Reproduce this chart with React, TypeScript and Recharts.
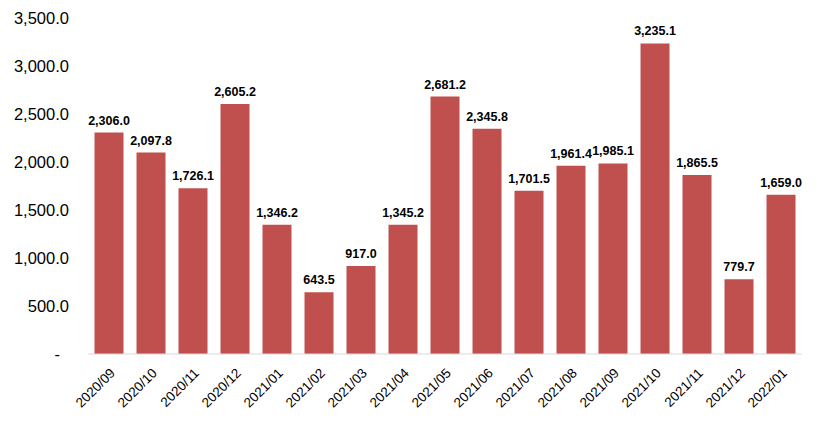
import { BarChart, Bar, XAxis, YAxis, LabelList } from "recharts";

const MONTHS = [
  "2020/09", "2020/10", "2020/11", "2020/12", "2021/01", "2021/02", "2021/03", "2021/04", "2021/05",
  "2021/06", "2021/07", "2021/08", "2021/09", "2021/10", "2021/11", "2021/12", "2022/01",
];
const VALUES = [
  2306.0, 2097.8, 1726.1, 2605.2, 1346.2, 643.5, 917.0, 1345.2, 2681.2,
  2345.8, 1701.5, 1961.4, 1985.1, 3235.1, 1865.5, 779.7, 1659.0,
];
const Y_TICKS = [0, 500, 1000, 1500, 2000, 2500, 3000, 3500];

const data = MONTHS.map((m, i) => ({ month: m, value: VALUES[i] }));

const fmt = (v: number) =>
  v.toLocaleString("en-US", { minimumFractionDigits: 1, maximumFractionDigits: 1 });

const FONT = "'Liberation Sans', Arial, sans-serif";

function YTick(props: any) {
  const { x, y, payload } = props;
  const v = payload.value as number;
  return (
    <text x={v === 0 ? x - 20 : x - 11} y={y} dy={6} textAnchor="end" fontSize={16.5} fill="#000" fontFamily={FONT}>
      {v === 0 ? "-" : fmt(v)}
    </text>
  );
}

function XTick(props: any) {
  const { x, y, payload } = props;
  return (
    <g transform={`translate(${x + 4},${y + 9})`}>
      <text x={0} y={0} dy={4} textAnchor="end" transform="rotate(-45)" fontSize={13.5} fill="#000" fontFamily={FONT}>
        {payload.value}
      </text>
    </g>
  );
}

export default function App() {
  return (
    <div style={{ position: "absolute", left: 0, top: 0, background: "#fff" }}>
      <BarChart
        width={825}
        height={431}
        data={data}
        margin={{ top: 18, right: 23, left: 0, bottom: 0 }}
        barCategoryGap="15.5%"
      >
        <XAxis
          dataKey="month"
          height={77}
          interval={0}
          tickLine={false}
          axisLine={{ stroke: "#d9d9d9" }}
          tick={<XTick />}
        />
        <YAxis
          width={88}
          domain={[0, 3500]}
          ticks={Y_TICKS}
          axisLine={false}
          tickLine={false}
          tick={<YTick />}
        />
        <Bar dataKey="value" fill="#C0504D" isAnimationActive={false}>
          <LabelList
            dataKey="value"
            position="top"
            offset={8}
            formatter={(v: any) => fmt(Number(v))}
            style={{ fontSize: 12.5, fontWeight: 700, fill: "#000", fontFamily: FONT }}
          />
        </Bar>
      </BarChart>
    </div>
  );
}
